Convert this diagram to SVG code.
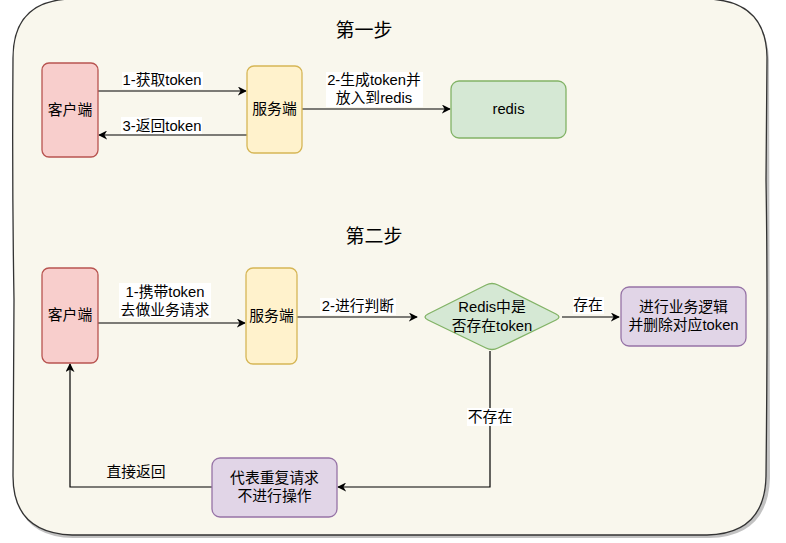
<svg xmlns="http://www.w3.org/2000/svg" width="786" height="543" viewBox="0 0 786 543">
<style>
  text { font-family: "Liberation Sans", "Noto Sans CJK SC", sans-serif; font-size: 14.8px; fill: #000; text-anchor: middle; dominant-baseline: central; }
  .title { font-size: 19px; }
  .edge { fill: none; stroke: #000; stroke-width: 1.2; }
  .lbl { fill: #fff; }
  .client { fill: #f8cecc; stroke: #b85450; stroke-width: 1.3; }
  .server { fill: #fff2cc; stroke: #d6b656; stroke-width: 1.3; }
  .green { fill: #d5e8d4; stroke: #82b366; stroke-width: 1.3; }
  .purple { fill: #e1d5e7; stroke: #9673a6; stroke-width: 1.3; }
</style>
<defs>
  <marker id="arr" viewBox="0 0 10 10" refX="9" refY="5" markerWidth="9" markerHeight="9" orient="auto" markerUnits="userSpaceOnUse">
    <path d="M0,0 L10,5 L0,10 L3,5 z" fill="#000"/>
  </marker>
</defs>
<g id="background">
  <path d="M16,60 Q15,3 72,1 L709,1 Q767,3 769,60 L770,478 Q768,537 709,538 L73,538 Q15,537 14,478 Z" fill="#999" opacity="0.6"/>
  <path d="M13,58 Q13,1 70,-1 L708,-1 Q766,1 767,57 L766,180 Q768,300 766,476 Q765,534 707,535 L72,535 Q13,533 13,476 L14,300 Q12,180 13,58 Z" fill="#f9f7ed" stroke="#333" stroke-width="1.3"/>
</g>
<text class="title" x="364" y="30">第一步</text>
<text class="title" x="374" y="236">第二步</text>
<g id="edges">
  <path class="edge" d="M98,91 L246,91" marker-end="url(#arr)"/>
  <path class="edge" d="M247,135 L99,135" marker-end="url(#arr)"/>
  <path class="edge" d="M302,109 L450,109" marker-end="url(#arr)"/>
  <path class="edge" d="M98,323 L245,323" marker-end="url(#arr)"/>
  <path class="edge" d="M297,317 L417,317" marker-end="url(#arr)"/>
  <path class="edge" d="M562,317 L619,317" marker-end="url(#arr)"/>
  <path class="edge" d="M490,351 L490,487 L338,487" marker-end="url(#arr)"/>
  <path class="edge" d="M212,487 L70,487 L70,364" marker-end="url(#arr)"/>
  <rect class="lbl" x="122" y="72" width="81" height="17"/>
  <text x="162" y="80">1-获取token</text>
  <rect class="lbl" x="121" y="117" width="81" height="17"/>
  <text x="162" y="126">3-返回token</text>
  <rect class="lbl" x="326" y="72" width="97" height="35"/>
  <text x="374" y="80">2-生成token并</text>
  <text x="374" y="98">放入到redis</text>
  <rect class="lbl" x="119" y="283" width="92" height="35"/>
  <text x="165" y="292">1-携带token</text>
  <text x="165" y="310">去做业务请求</text>
  <rect class="lbl" x="320" y="298" width="76" height="17"/>
  <text x="358" y="306">2-进行判断</text>
  <rect class="lbl" x="573" y="297" width="31" height="17"/>
  <text x="588" y="305">存在</text>
  <rect class="lbl" x="467" y="408" width="46" height="18"/>
  <text x="490" y="417">不存在</text>
  <text x="136" y="472">直接返回</text>
</g>
<g id="client1">
  <rect class="client" x="42" y="63" width="56" height="94" rx="7"/>
  <text x="70" y="110">客户端</text>
</g>
<g id="server1">
  <rect class="server" x="247" y="66" width="55" height="87" rx="7"/>
  <text x="274.5" y="109">服务端</text>
</g>
<g id="redis">
  <rect class="green" x="451" y="81" width="115" height="57" rx="8"/>
  <text x="508.5" y="109">redis</text>
</g>
<g id="client2">
  <rect class="client" x="42" y="268" width="56" height="95" rx="7"/>
  <text x="70" y="315">客户端</text>
</g>
<g id="server2">
  <rect class="server" x="246" y="268" width="51" height="96" rx="7"/>
  <text x="271.5" y="316">服务端</text>
</g>
<g id="decision">
  <path class="green" d="M486,285 Q492,282 498,285 L556,314 Q562,317 556,320 L498,348 Q492,351 486,348 L428,320 Q422,317 428,314 Z"/>
  <text x="492" y="307">Redis中是</text>
  <text x="492" y="326">否存在token</text>
</g>
<g id="process">
  <rect class="purple" x="621" y="287" width="125" height="59" rx="8"/>
  <text x="683.5" y="307">进行业务逻辑</text>
  <text x="683.5" y="325">并删除对应token</text>
</g>
<g id="duplicate">
  <rect class="purple" x="212" y="458" width="125" height="59" rx="8"/>
  <text x="274.5" y="478">代表重复请求</text>
  <text x="274.5" y="496">不进行操作</text>
</g>
</svg>
